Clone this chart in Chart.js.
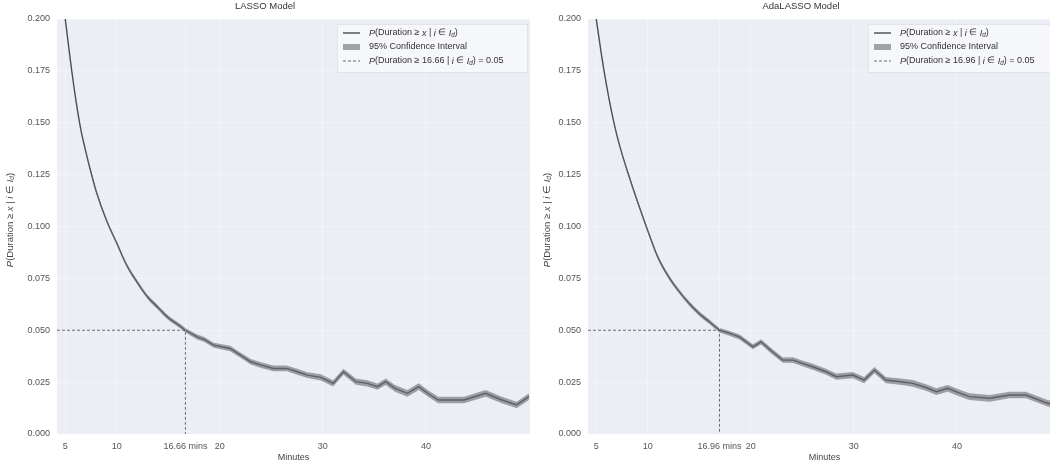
<!DOCTYPE html>
<html>
<head>
<meta charset="utf-8">
<script src="https://cdn.jsdelivr.net/npm/chart.js@4.4.0/dist/chart.umd.min.js"></script>
<style>
    html, body { margin: 0; padding: 0; background: #fff; }
    body { width: 1050px; height: 465px; position: relative; overflow: hidden; }
    .panel { position: absolute; top: 0; }
    canvas { display: block; }
</style>
</head>
<body>
<div class="panel" style="left:0px"><canvas id="lassoChart" width="535" height="465"></canvas></div>
<div class="panel" style="left:541px"><canvas id="adaChart" width="525" height="465"></canvas></div>
<script>
// values
var lassoMinutes = [5, 5.5, 6, 6.5, 7, 7.5, 8, 9, 10, 11, 12, 13, 14, 15, 16, 16.66, 17.8, 18.5, 19.4, 21,
    22, 23, 24, 25.2, 26.5, 27.5, 28.5, 29.8, 31, 32, 33.2, 34.3, 35.3, 36.1, 37, 38.2, 39.3, 40.2, 41.2, 43.7,
    45.8, 47.3, 48.8, 50];
var lassoProb = [0.200, 0.180, 0.162, 0.147, 0.136, 0.126, 0.117, 0.103, 0.092, 0.081, 0.073, 0.066, 0.061, 0.056, 0.0525, 0.050, 0.0468, 0.0455, 0.0428, 0.0412,
    0.038, 0.0348, 0.0332, 0.0316, 0.0316, 0.0300, 0.0284, 0.0273, 0.0244, 0.0300, 0.0252, 0.0244, 0.0228, 0.0252, 0.0220, 0.0196, 0.0228, 0.0195, 0.0164, 0.0164,
    0.0196, 0.0165, 0.0140, 0.0180];
var lassoBand = [0.0003, 0.0003, 0.0004, 0.0004, 0.0005, 0.0005, 0.0006, 0.0007, 0.0008, 0.0009, 0.001, 0.001, 0.0011, 0.0011, 0.0011, 0.0011, 0.0012, 0.0012, 0.0012, 0.0013,
    0.0013, 0.0013, 0.0014, 0.0014, 0.0014, 0.0014, 0.0014, 0.0015, 0.0015, 0.0015, 0.0015, 0.0015, 0.0015, 0.0016, 0.0016, 0.0016, 0.0016, 0.0016, 0.0016, 0.0016,
    0.0016, 0.0016, 0.0016, 0.0016];
var lassoCutoff = 16.66;

var adaMinutes = [5, 5.5, 6, 6.5, 7, 7.5, 8, 9, 10, 11, 12, 13, 14, 15, 16, 16.96, 17.9, 18.9, 20.2, 21,
    22, 23.1, 24.1, 25, 26, 27.3, 28.3, 29.9, 31, 32, 33.1, 34.5, 35.7, 37, 38, 39.1, 40.2, 41.2, 43.2, 45.1,
    46.7, 48.8, 50];
var adaProb = [0.200, 0.183, 0.168, 0.155, 0.144, 0.135, 0.127, 0.112, 0.098, 0.085, 0.076, 0.069, 0.063, 0.058, 0.054, 0.050, 0.0486, 0.0468, 0.0420, 0.0444,
    0.0400, 0.0356, 0.0356, 0.0340, 0.0324, 0.0300, 0.0276, 0.0284, 0.0260, 0.0308, 0.0260, 0.0252, 0.0244, 0.0224, 0.0204, 0.0220, 0.0198, 0.0180, 0.0172, 0.0188,
    0.0188, 0.0148, 0.0135];
var adaBand = [0.0003, 0.0003, 0.0004, 0.0004, 0.0005, 0.0005, 0.0006, 0.0007, 0.0008, 0.0009, 0.001, 0.001, 0.0011, 0.0011, 0.0011, 0.0011, 0.0012, 0.0012, 0.0012, 0.0013,
    0.0013, 0.0013, 0.0014, 0.0014, 0.0014, 0.0014, 0.0015, 0.0015, 0.0015, 0.0015, 0.0015, 0.0015, 0.0016, 0.0016, 0.0016, 0.0016, 0.0016, 0.0016, 0.0016, 0.0016,
    0.0016, 0.0016, 0.0016];
var adaCutoff = 16.96;

var targetProb = 0.05;
var xRange = [4.2, 50.1];
var yTicks = [0, 0.025, 0.05, 0.075, 0.1, 0.125, 0.15, 0.175, 0.2];
var xTicksBase = [5, 10, 20, 30, 40];

var FONT = "Arial, 'Liberation Sans', Helvetica, sans-serif";
var plotBg = '#eceef6';
var lineColor = '#4a4a50';
var bandColor = 'rgba(108,108,116,0.62)';
var dashColor = '#6b6b70';
var gridColor = 'rgba(255,255,255,0.35)';

var toPoints = function (xs, ys) {
    return xs.map(function (x, i) { return {x: x, y: ys[i]}; });
};

// text pieces: [text, style] where style '' normal, 'i' italic, 's' italic subscript
var drawPieces = function (ctx, pieces, x, y, size, measureOnly) {
    var w = 0;
    pieces.forEach(function (p) {
        var sz = p[1] === 's' ? size * 0.7 : size;
        ctx.font = (p[1] ? 'italic ' : '') + sz + 'px ' + FONT;
        if (!measureOnly) ctx.fillText(p[0], x + w, p[1] === 's' ? y + size * 0.25 : y);
        w += ctx.measureText(p[0]).width;
    });
    return w;
};

var bgPlugin = {
    id: 'plotBg',
    beforeDraw: function (chart) {
        var a = chart.chartArea, ctx = chart.ctx;
        ctx.save();
        ctx.fillStyle = plotBg;
        ctx.fillRect(a.left, a.top, a.right - a.left, a.bottom - a.top);
        ctx.restore();
    }
};

var legendPlugin = {
    id: 'mathText',
    afterDraw: function (chart, args, opts) {
        var a = chart.chartArea, ctx = chart.ctx;
        var cut = opts.cutoff;
        ctx.save();

        // y axis title, rotated
        var yTitle = [['P', 'i'], ['(Duration \u2265 ', ''], ['x', 'i'], [' | ', ''], ['i', 'i'], [' \u2208 ', ''], ['I', 'i'], ['d', 's'], [')', '']];
        ctx.fillStyle = '#444';
        ctx.textBaseline = 'middle';
        var tw = drawPieces(ctx, yTitle, 0, 0, 9.5, true);
        ctx.translate(opts.yTitleX, 220);
        ctx.rotate(-Math.PI / 2);
        drawPieces(ctx, yTitle, -tw / 2, 0, 9.5, false);
        ctx.setTransform(1, 0, 0, 1, 0, 0);

        // legend box in the upper right of the plot
        var bx = a.right - 193, by = a.top + 5;
        ctx.fillStyle = 'rgba(255,255,255,0.5)';
        ctx.strokeStyle = 'rgba(222,222,230,0.8)';
        ctx.lineWidth = 1;
        ctx.fillRect(bx, by, 190, 48);
        ctx.strokeRect(bx + 0.5, by + 0.5, 190, 48);

        var rows = [a.top + 14, a.top + 28, a.top + 42];
        // sample: line
        ctx.strokeStyle = lineColor;
        ctx.lineWidth = 1.4;
        ctx.beginPath();
        ctx.moveTo(bx + 6, rows[0]);
        ctx.lineTo(bx + 23, rows[0]);
        ctx.stroke();
        // sample: band
        ctx.fillStyle = bandColor;
        ctx.fillRect(bx + 6, rows[1] - 3, 17, 6);
        // sample: dashed
        ctx.strokeStyle = dashColor;
        ctx.lineWidth = 1;
        ctx.setLineDash([3, 2]);
        ctx.beginPath();
        ctx.moveTo(bx + 6, rows[2]);
        ctx.lineTo(bx + 23, rows[2]);
        ctx.stroke();
        ctx.setLineDash([]);

        ctx.fillStyle = '#333';
        var tx = bx + 32;
        drawPieces(ctx, [['P', 'i'], ['(Duration \u2265 ', ''], ['x', 'i'], [' | ', ''], ['i', 'i'], [' \u2208 ', ''], ['I', 'i'], ['d', 's'], [')', '']], tx, rows[0], 9, false);
        drawPieces(ctx, [['95% Confidence Interval', '']], tx, rows[1], 9, false);
        drawPieces(ctx, [['P', 'i'], ['(Duration \u2265 ' + cut + ' | ', ''], ['i', 'i'], [' \u2208 ', ''], ['I', 'i'], ['d', 's'], [') = ' + targetProb.toFixed(2), '']], tx, rows[2], 9, false);
        ctx.restore();
    }
};

var makeChart = function (canvasId, title, minutes, prob, band, cutoff, yAxisWidth, yTitleX) {
    var lower = prob.map(function (v, i) { return v - band[i]; });
    var upper = prob.map(function (v, i) { return v + band[i]; });
    var xTicks = xTicksBase.slice(0, 2).concat([cutoff], xTicksBase.slice(2));
    // smooth head of the curve up to the cutoff, straight jagged tail after it
    var k = minutes.indexOf(cutoff) + 1;
    var head = function (arr) { return toPoints(minutes.slice(0, k), arr.slice(0, k)); };
    var tail = function (arr) { return toPoints(minutes.slice(k - 1), arr.slice(k - 1)); };

    var ctx = document.getElementById(canvasId);
    return new Chart(ctx, {
        type: 'line',
        data: {
            datasets: [
                {label: 'lower', data: head(lower), borderWidth: 0, pointRadius: 0, fill: false, cubicInterpolationMode: 'monotone'},
                {label: '95% Confidence Interval', data: head(upper), borderWidth: 0, pointRadius: 0,
                    fill: '-1', backgroundColor: bandColor, cubicInterpolationMode: 'monotone'},
                {label: 'lower tail', data: tail(lower), borderWidth: 0, pointRadius: 0, fill: false},
                {label: '95% Confidence Interval tail', data: tail(upper), borderWidth: 0, pointRadius: 0,
                    fill: '-1', backgroundColor: bandColor},
                {label: 'P(Duration >= x)', data: head(prob), borderColor: lineColor, borderWidth: 1.4,
                    pointRadius: 0, fill: false, cubicInterpolationMode: 'monotone'},
                {label: 'P(Duration >= x) tail', data: tail(prob), borderColor: lineColor, borderWidth: 1.4,
                    pointRadius: 0, fill: false},
                {label: 'cutoff', data: [{x: xRange[0], y: targetProb}, {x: cutoff, y: targetProb}, {x: cutoff, y: 0}],
                    borderColor: dashColor, borderWidth: 1, borderDash: [3, 2], pointRadius: 0, fill: false}
            ]
        },
        options: {
            responsive: false,
            animation: false,
            layout: {padding: {right: 5}},
            plugins: {
                legend: {display: false},
                tooltip: {enabled: false},
                title: {display: true, text: title, color: '#333', font: {family: FONT, size: 9.5, weight: 'normal'},
                    padding: {top: 1, bottom: 6.6}},
                mathText: {cutoff: cutoff, yTitleX: yTitleX}
            },
            scales: {
                x: {
                    type: 'linear', min: xRange[0], max: xRange[1],
                    border: {display: false},
                    grid: {color: gridColor, drawTicks: false},
                    afterBuildTicks: function (scale) {
                        scale.ticks = xTicks.map(function (v) { return {value: v}; });
                    },
                    afterFit: function (scale) { scale.height = 31; },
                    ticks: {
                        color: '#555', padding: 7, font: {family: FONT, size: 9}, maxRotation: 0, autoSkip: false,
                        callback: function (v) { return v === cutoff ? cutoff + ' mins' : v; }
                    },
                    title: {display: true, text: 'Minutes', color: '#444', font: {family: FONT, size: 9},
                        padding: {top: 2, bottom: 2}}
                },
                y: {
                    min: 0, max: 0.2,
                    border: {display: false},
                    grid: {color: gridColor, drawTicks: false},
                    afterBuildTicks: function (scale) {
                        scale.ticks = yTicks.map(function (v) { return {value: v}; });
                    },
                    afterFit: function (scale) { scale.width = yAxisWidth; },
                    ticks: {
                        color: '#555', padding: 7, font: {family: FONT, size: 9},
                        callback: function (v) { return v.toFixed(3); }
                    }
                }
            }
        },
        plugins: [bgPlugin, legendPlugin]
    });
};

var lassoChart = makeChart('lassoChart', 'LASSO Model', lassoMinutes, lassoProb, lassoBand, lassoCutoff, 57, 10);
var adaChart = makeChart('adaChart', 'AdaLASSO Model', adaMinutes, adaProb, adaBand, adaCutoff, 47, 6);
</script>
</body>
</html>
